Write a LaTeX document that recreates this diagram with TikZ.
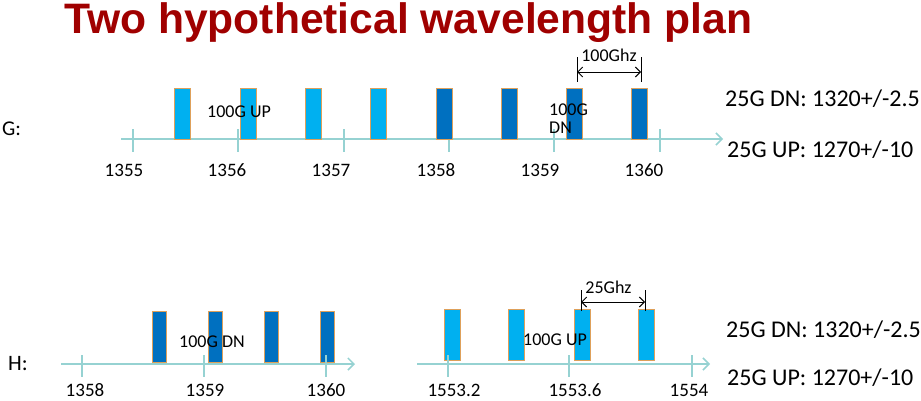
\documentclass[tikz,border=0pt]{standalone}
\usepackage{fontspec}
\setmainfont{Carlito}
\newfontfamily\titlefont{Liberation Sans}
\usetikzlibrary{arrows.meta}
\definecolor{titlered}{RGB}{160,0,0}
\definecolor{lightch}{RGB}{0,176,240}
\definecolor{darkch}{RGB}{0,112,192}
\definecolor{chborder}{RGB}{222,160,90}
\definecolor{axisteal}{RGB}{150,210,210}
\tikzset{
  chan/.style={draw=chborder, line width=1pt, inner sep=0pt, minimum width=16pt, minimum height=51pt, anchor=south},
  lchan/.style={chan, fill=lightch},
  dchan/.style={chan, fill=darkch},
  axisline/.style={draw=axisteal, line width=1.5pt, -{Straight Barb[length=6pt,width=12pt]}},
  tickmark/.style={draw=axisteal, line width=1.3pt},
  ticklbl/.style={anchor=base, inner sep=0pt, font=\fontsize{19}{19}\selectfont},
  smalllbl/.style={inner sep=0pt, font=\fontsize{18}{18}\selectfont},
  bigscale/.style={anchor=base west, inner sep=0pt, font=\fontsize{24}{24}\selectfont},
  dimline/.style={draw=black, line width=1pt},
  dimarrow/.style={draw=black, line width=1pt, {Straight Barb[length=5pt,width=10pt]}-{Straight Barb[length=5pt,width=10pt]}},
}
\begin{document}
\begin{tikzpicture}[x=1pt,y=-1pt]
\useasboundingbox (0,0) rectangle (921,400);
% title
\node[anchor=base west, inner sep=0pt, text=titlered, font=\titlefont\bfseries\fontsize{42.6}{42.6}\selectfont] (title) at (64,33) {Two hypothetical wavelength plan};

% ================= G =================
\node[anchor=base west, inner sep=0pt, font=\fontsize{21}{21}\selectfont] (glbl) at (2,135) {G:};
\coordinate (gA) at (121,139);
\coordinate (gB) at (723,139);
\draw[axisline] (gA) -- (gB);
\foreach \x/\t [count=\i] in {133/1355,238/1356,344/1357,449/1358,554/1359,660/1360}{
  \coordinate (gt\i a) at (\x,129);
  \coordinate (gt\i b) at (\x,152);
  \draw[tickmark] (gt\i a) -- (gt\i b);
}
\foreach \x/\t [count=\i] in {124/1355,227/1356,331/1357,436/1358,540/1359,644/1360}{
  \node[ticklbl] (gl\i) at (\x,176) {\t};
}
\foreach \x [count=\i] in {182.5,248.5,313.5,378.5}{
  \node[lchan] (gc\i) at (\x,140) {};
}
\foreach \x [count=\i from 5] in {444.5,509,574.5,639}{
  \node[dchan] (gc\i) at (\x,140) {};
}
\node[smalllbl, anchor=base west] (gup) at (207,117) {100G UP};
\node[smalllbl, anchor=north west, align=left, font=\fontsize{18}{18}\selectfont] (gdn) at (549,103.5) {100G\\DN};
% 100Ghz dimension
\coordinate (gd1a) at (577,57);
\coordinate (gd1b) at (577,82);
\coordinate (gd2a) at (641,57);
\coordinate (gd2b) at (641,82);
\draw[dimline] (gd1a) -- (gd1b);
\draw[dimline] (gd2a) -- (gd2b);
\coordinate (gm1) at (577,72);
\coordinate (gm2) at (641,72);
\draw[dimarrow] (gm1) -- (gm2);
\node[smalllbl, anchor=base] (g100) at (609,61) {100Ghz};
\node[bigscale] (gr1) at (725,106) {25G DN: 1320+/-2.5};
\node[bigscale] (gr2) at (727,157) {25G UP: 1270+/-10};

% ================= H =================
\node[anchor=base west, inner sep=0pt, font=\fontsize{22}{22}\selectfont] (hlbl) at (8,370) {H:};
\coordinate (hA) at (61,364);
\coordinate (hB) at (355,364);
\draw[axisline] (hA) -- (hB);
\coordinate (hC) at (417,364);
\coordinate (hD) at (710,364);
\draw[axisline] (hC) -- (hD);
\foreach \x [count=\i] in {159,215,271,327}{
  \node[dchan, minimum width=14pt] (hc\i) at (\x,363) {};
}
\foreach \x [count=\i] in {452,516.5,582,646.5}{
  \node[lchan] (hk\i) at (\x,361) {};
}
\foreach \x [count=\i] in {82,204,326,448,569,692}{
  \coordinate (ht\i a) at (\x,355);
  \coordinate (ht\i b) at (\x,377);
  \draw[tickmark] (ht\i a) -- (ht\i b);
}
\foreach \x/\t [count=\i] in {85/1358,205/1359,326/1360,454/1553.2,575/1553.6,689/1554}{
  \node[ticklbl] (hl\i) at (\x,396.5) {\t};
}
\node[smalllbl, anchor=base west] (hdn) at (179,347) {100G DN};
\node[smalllbl, anchor=base west] (hup) at (523,345) {100G UP};
% 25Ghz dimension
\coordinate (hd1a) at (581,290);
\coordinate (hd1b) at (581,311);
\coordinate (hd2a) at (645,290);
\coordinate (hd2b) at (645,311);
\draw[dimline] (hd1a) -- (hd1b);
\draw[dimline] (hd2a) -- (hd2b);
\coordinate (hm1) at (581,302);
\coordinate (hm2) at (645,302);
\draw[dimarrow] (hm1) -- (hm2);
\node[smalllbl, anchor=base] (h25) at (608.5,293) {25Ghz};
\node[bigscale] (hr1) at (726,337) {25G DN: 1320+/-2.5};
\node[bigscale] (hr2) at (727,385) {25G UP: 1270+/-10};
\end{tikzpicture}
\end{document}
